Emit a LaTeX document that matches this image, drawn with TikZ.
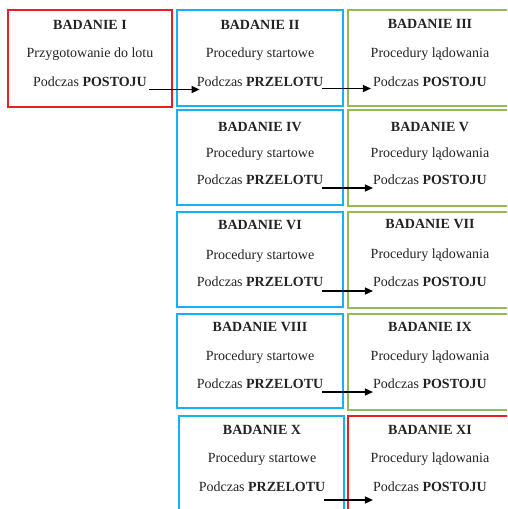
\documentclass[tikz,border=0pt]{standalone}
\usepackage{fontspec}
\setmainfont{Liberation Serif}
\usetikzlibrary{arrows.meta}
\definecolor{bred}{RGB}{240,28,36}
\definecolor{bblue}{RGB}{20,178,240}
\definecolor{bgreen}{RGB}{150,187,84}
\definecolor{txt}{RGB}{35,35,35}
\tikzset{
  box/.style={draw, rectangle, inner sep=0pt},
  redbox/.style={box, draw=bred, line width=1.6pt},
  bluebox/.style={box, draw=bblue, line width=2pt},
  greenbox/.style={box, draw=bgreen, line width=2.6pt},
  ln/.style={anchor=base, inner sep=0pt, text=txt, font=\fontsize{14}{16}\selectfont},
  arr/.style={-{Triangle[length=8pt,width=7pt]}, line width=1.4pt, black}
}
\begin{document}
\begin{tikzpicture}[x=1pt,y=-1pt]
\useasboundingbox (0,0) rectangle (507,509);
\clip (0,0) rectangle (507,509);
% boxes
\node[redbox, minimum width=164pt, minimum height=97pt] (b1) at (90,58.5) {};
\node[bluebox, minimum width=166pt, minimum height=96pt] (b2) at (260,58) {};
\node[greenbox, minimum width=164pt, minimum height=96pt] (b3) at (430,58) {};
\node[bluebox, minimum width=166pt, minimum height=95pt] (b4) at (260,157.5) {};
\node[greenbox, minimum width=164pt, minimum height=96pt] (b5) at (430,158) {};
\node[bluebox, minimum width=166pt, minimum height=95pt] (b6) at (260,259.5) {};
\node[greenbox, minimum width=164pt, minimum height=96pt] (b7) at (430,260) {};
\node[bluebox, minimum width=166pt, minimum height=94pt] (b8) at (260,361) {};
\node[greenbox, minimum width=164pt, minimum height=96pt] (b9) at (430,362) {};
\node[bluebox, minimum width=165pt, minimum height=100pt] (b10) at (261.5,466) {};
\node[redbox, minimum width=164pt, minimum height=100pt] (b11) at (430,466) {};
% row 1
\node[ln] (t1) at (90,29) {\textbf{BADANIE I}};
\node[ln] (m1) at (90,57.5) {Przygotowanie do lotu};
\node[ln] (p1) at (90,86) {Podczas \textbf{POSTOJU}};
\node[ln] (t2) at (260,29) {\textbf{BADANIE II}};
\node[ln] (m2) at (260,57.5) {Procedury startowe};
\node[ln] (p2) at (260,86) {Podczas \textbf{PRZELOTU}};
\node[ln] (t3) at (430,28) {\textbf{BADANIE III}};
\node[ln] (m3) at (430,57.5) {Procedury lądowania};
\node[ln] (p3) at (430,86) {Podczas \textbf{POSTOJU}};
% row 2
\node[ln] (t4) at (260,131.5) {\textbf{BADANIE IV}};
\node[ln] (m4) at (260,157.5) {Procedury startowe};
\node[ln] (p4) at (260,184.5) {Podczas \textbf{PRZELOTU}};
\node[ln] (t5) at (430,131.5) {\textbf{BADANIE V}};
\node[ln] (m5) at (430,157.5) {Procedury lądowania};
\node[ln] (p5) at (430,184.5) {Podczas \textbf{POSTOJU}};
% row 3
\node[ln] (t6) at (260,229) {\textbf{BADANIE VI}};
\node[ln] (m6) at (260,259) {Procedury startowe};
\node[ln] (p6) at (260,286) {Podczas \textbf{PRZELOTU}};
\node[ln] (t7) at (430,228) {\textbf{BADANIE VII}};
\node[ln] (m7) at (430,258) {Procedury lądowania};
\node[ln] (p7) at (430,286) {Podczas \textbf{POSTOJU}};
% row 4
\node[ln] (t8) at (260,331.5) {\textbf{BADANIE VIII}};
\node[ln] (m8) at (260,360.5) {Procedury startowe};
\node[ln] (p8) at (260,388.5) {Podczas \textbf{PRZELOTU}};
\node[ln] (t9) at (430,331.5) {\textbf{BADANIE IX}};
\node[ln] (m9) at (430,360.5) {Procedury lądowania};
\node[ln] (p9) at (430,388.5) {Podczas \textbf{POSTOJU}};
% row 5
\node[ln] (t10) at (262,434) {\textbf{BADANIE X}};
\node[ln] (m10) at (262,462) {Procedury startowe};
\node[ln] (p10) at (262,491) {Podczas \textbf{PRZELOTU}};
\node[ln] (t11) at (430,434) {\textbf{BADANIE XI}};
\node[ln] (m11) at (430,462) {Procedury lądowania};
\node[ln] (p11) at (430,491) {Podczas \textbf{POSTOJU}};
% arrows
\draw[arr] ([xshift=2pt,yshift=-3.5pt]p1.base east) -- ([xshift=3pt,yshift=-3.5pt]p2.base west);
\draw[arr] ([xshift=-1pt,yshift=-2.5pt]p2.base east) -- ([xshift=-2pt,yshift=-2.5pt]p3.base west);
\draw[arr] ([xshift=-1pt,yshift=-3.5pt]p4.base east) -- ([xshift=0pt,yshift=-3.5pt]p5.base west);
\draw[arr] ([xshift=-1pt,yshift=-5pt]p6.base east) -- ([xshift=0pt,yshift=-5pt]p7.base west);
\draw[arr] ([xshift=-1pt,yshift=-3.5pt]p8.base east) -- ([xshift=0pt,yshift=-3.5pt]p9.base west);
\draw[arr] ([xshift=-1pt,yshift=-9pt]p10.base east) -- ([xshift=0pt,yshift=-9pt]p11.base west);
\end{tikzpicture}
\end{document}
